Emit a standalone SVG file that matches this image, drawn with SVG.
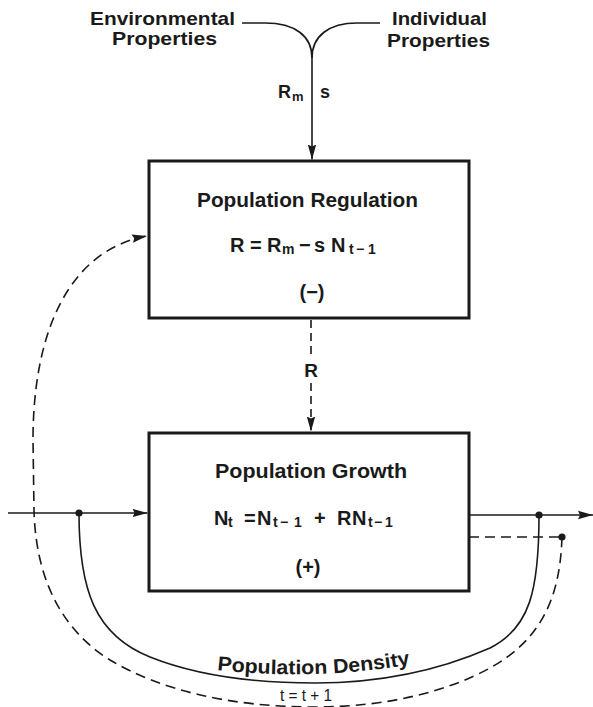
<svg xmlns="http://www.w3.org/2000/svg" width="593" height="707" viewBox="0 0 593 707">
<style>
  .lbl{font-family:"Liberation Sans",Arial,sans-serif;font-weight:bold;fill:#1a1a1a}
  .t19{font-size:19px}
  .t20{font-size:20px}
  .sub{font-size:14px}
  .box{fill:none;stroke:#1a1a1a;stroke-width:3}
  .solid{fill:none;stroke:#1a1a1a;stroke-width:1.6}
  .dash{fill:none;stroke:#1a1a1a;stroke-width:1.6;stroke-dasharray:10 6}
  .dashs{fill:none;stroke:#1a1a1a;stroke-width:1.6;stroke-dasharray:8 5}
  .dot{fill:#1a1a1a}
</style>
<defs>
  <marker id="arr" markerUnits="userSpaceOnUse" markerWidth="16" markerHeight="10" refX="15" refY="5" orient="auto">
    <path d="M0,0.8 L15,5 L0,9.2 L2,5 z" fill="#1a1a1a"/>
  </marker>
</defs>
<rect width="593" height="707" fill="#ffffff"/>

<g id="environmental-properties">
  <text class="lbl t19" x="90" y="25" textLength="145" lengthAdjust="spacingAndGlyphs">Environmental</text>
  <text class="lbl t19" x="112" y="45" textLength="105" lengthAdjust="spacingAndGlyphs">Properties</text>
</g>
<g id="individual-properties">
  <text class="lbl t19" x="392" y="25" textLength="95" lengthAdjust="spacingAndGlyphs">Individual</text>
  <text class="lbl t19" x="387" y="47" textLength="103" lengthAdjust="spacingAndGlyphs">Properties</text>
</g>

<g id="population-regulation">
  <rect class="box" x="149" y="161" width="320" height="157"/>
  <text class="lbl t20" x="197" y="207" textLength="221" lengthAdjust="spacingAndGlyphs">Population Regulation</text>
  <text class="lbl t20" y="252"><tspan x="230">R</tspan><tspan x="250">=</tspan><tspan x="267">R</tspan><tspan class="sub" x="282" y="254">m</tspan><tspan x="299" y="252">−</tspan><tspan x="314">s</tspan><tspan x="331">N</tspan><tspan class="sub" x="349" y="254">t</tspan><tspan class="sub" x="356" y="254">−</tspan><tspan class="sub" x="368" y="254">1</tspan></text>
  <text class="lbl t20" x="312" y="299" text-anchor="middle">(−)</text>
</g>

<g id="population-growth">
  <rect class="box" x="149" y="433" width="320" height="158"/>
  <text class="lbl t20" x="215" y="478" textLength="192" lengthAdjust="spacingAndGlyphs">Population Growth</text>
  <text class="lbl t20" y="525"><tspan x="214">N</tspan><tspan class="sub" x="228" y="527">t</tspan><tspan x="244" y="525">=</tspan><tspan x="257">N</tspan><tspan class="sub" x="273" y="527">t</tspan><tspan class="sub" x="280" y="527">−</tspan><tspan class="sub" x="294" y="527">1</tspan><tspan x="314" y="525">+</tspan><tspan x="337">R</tspan><tspan x="352">N</tspan><tspan class="sub" x="368" y="527">t</tspan><tspan class="sub" x="374" y="527">−</tspan><tspan class="sub" x="385" y="527">1</tspan></text>
  <text class="lbl t20" x="308" y="574" text-anchor="middle">(+)</text>
</g>

<g id="connectors">
  <!-- inputs merging into Rm s -->
  <path class="solid" d="M242,23 L265,23 C295,23 312,36 312,58"/>
  <path class="solid" d="M380,23 L357,23 C329,23 312,36 312,58"/>
  <path class="solid" d="M312,58 L312,159.5" marker-end="url(#arr)"/>
  <text class="lbl" font-size="18" x="278" y="98">R</text>
  <text class="lbl" font-size="13" x="292" y="101">m</text>
  <text class="lbl" font-size="18" x="320" y="98">s</text>

  <!-- R dashed arrow -->
  <path class="dashs" d="M311,320 L311,357"/>
  <text class="lbl" font-size="19" x="311" y="377" text-anchor="middle">R</text>
  <path class="dashs" d="M311,383 L311,431.5" marker-end="url(#arr)"/>

  <!-- main flow -->
  <path class="solid" d="M8,513 L147.5,513" marker-end="url(#arr)"/>
  <path class="solid" d="M469,515 L593,515" marker-end="url(#arr)"/>
  <circle class="dot" cx="79" cy="513" r="3.6"/>
  <circle class="dot" cx="539" cy="515" r="3.6"/>

  <!-- population density loop -->
  <path class="solid" d="M79,513 C79,590 95,635 150,657 C200,677 260,683 315,683 C380,683 440,670 490,648 C530,628 539,590 539,515"/>
  <path id="pdpath" d="M217,670 Q315,681 413,664" fill="none" stroke="none"/>
  <text class="lbl t20"><textPath href="#pdpath" textLength="194" lengthAdjust="spacingAndGlyphs">Population Density</textPath></text>

  <!-- t = t + 1 dashed feedback -->
  <path class="dash" d="M469,537 L562,537"/>
  <circle class="dot" cx="562" cy="537" r="3.6"/>
  <path class="dash" d="M562,537 C560,600 540,640 490,668 C450,690 390,707 315,707 C230,707 160,690 110,660 C70,635 36,590 34,510 L33,440 C33,330 70,250 147,236" marker-end="url(#arr)"/>
  <text font-family="Liberation Sans, Arial, sans-serif" font-size="16" fill="#1a1a1a" x="280" y="701" textLength="52" lengthAdjust="spacingAndGlyphs">t = t + 1</text>
</g>
</svg>
